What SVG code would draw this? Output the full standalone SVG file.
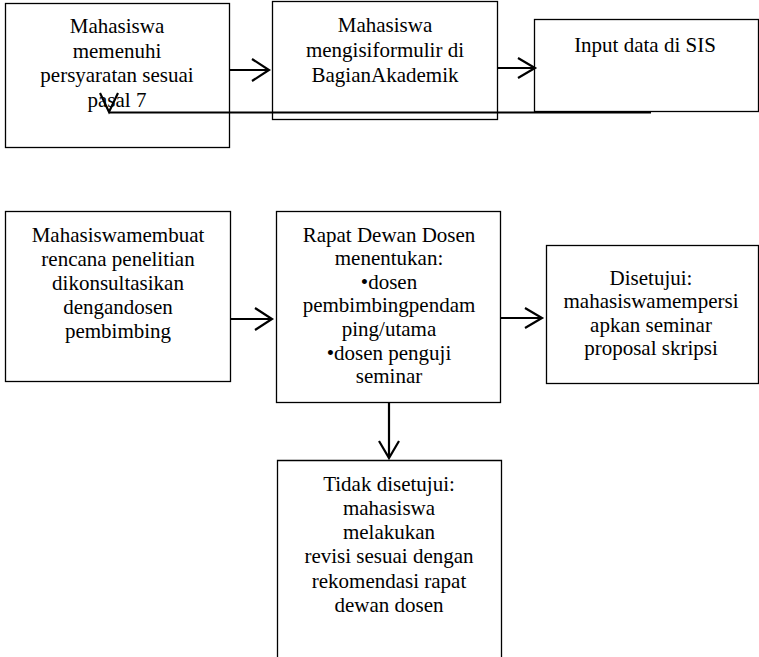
<svg xmlns="http://www.w3.org/2000/svg" width="759" height="657" viewBox="0 0 759 657">
<style>
.box{fill:#fff;stroke:#000;stroke-width:1.3}
.t{font-family:'Liberation Serif',Tinos,'Times New Roman',Times,'DejaVu Serif',serif;font-size:21px;fill:#000;text-anchor:middle}
.c{fill:none;stroke:#000;stroke-width:2.2}
</style>
<rect width="759" height="657" fill="#fff"/>
<g id="n1"><rect class="box" x="5.5" y="3.5" width="224" height="144"/>
<text class="t" font-family="Liberation Serif, serif"><tspan x="117" y="33">Mahasiswa</tspan><tspan x="117" y="57.5">memenuhi</tspan><tspan x="117" y="82">persyaratan sesuai</tspan><tspan x="117" y="106.5">pasal 7</tspan></text></g>
<g id="n2"><rect class="box" x="272.5" y="1.5" width="225" height="118"/>
<text class="t"><tspan x="385" y="32">Mahasiswa</tspan><tspan x="385" y="57">mengisiformulir di</tspan><tspan x="385" y="82">BagianAkademik</tspan></text></g>
<g id="n3"><rect class="box" x="534.5" y="19.5" width="224" height="92"/>
<text class="t"><tspan x="645" y="52">Input data di SIS</tspan></text></g>
<g id="n4"><rect class="box" x="5.5" y="211.5" width="225" height="170"/>
<text class="t"><tspan x="118" y="242">Mahasiswamembuat</tspan><tspan x="118" y="266">rencana penelitian</tspan><tspan x="118" y="290">dikonsultasikan</tspan><tspan x="118" y="313.5">dengandosen</tspan><tspan x="118" y="337.5">pembimbing</tspan></text></g>
<g id="n5"><rect class="box" x="276.5" y="211.5" width="224" height="191"/>
<text class="t"><tspan x="389" y="241.5">Rapat Dewan Dosen</tspan><tspan x="389" y="265">menentukan:</tspan><tspan x="389" y="288.5">•dosen</tspan><tspan x="389" y="312">pembimbingpendam</tspan><tspan x="389" y="336">ping/utama</tspan><tspan x="389" y="359.5">•dosen penguji</tspan><tspan x="389" y="383">seminar</tspan></text></g>
<g id="n6"><rect class="box" x="546.5" y="245.5" width="212" height="138"/>
<text class="t"><tspan x="651" y="284.5">Disetujui:</tspan><tspan x="651" y="308">mahasiswamempersi</tspan><tspan x="651" y="331.5">apkan seminar</tspan><tspan x="651" y="355">proposal skripsi</tspan></text></g>
<g id="n7"><path class="box" d="M277.5 662V460.5H501.5V662"/>
<text class="t"><tspan x="389" y="491">Tidak disetujui:</tspan><tspan x="389" y="515">mahasiswa</tspan><tspan x="389" y="538.5">melakukan</tspan><tspan x="389" y="563">revisi sesuai dengan</tspan><tspan x="389" y="587.5">rekomendasi rapat</tspan><tspan x="389" y="611.5">dewan dosen</tspan></text></g>
<g id="connectors">
<path class="c" d="M229 70H269M252 59L269 70L252 81"/>
<path class="c" d="M497 68H535M518 58L535 68L518 78"/>
<path class="c" d="M109 112.5H651" stroke-width="2.6"/>
<path class="c" d="M100 93L109 112L118 93" stroke-width="2.6"/>
<path class="c" d="M230 319H272M255 308L272 319L255 330"/>
<path class="c" d="M500 318H542M525 308L542 318L525 328"/>
<path class="c" d="M389 402V458M379 441L389 458L399 441"/>
</g>
</svg>
